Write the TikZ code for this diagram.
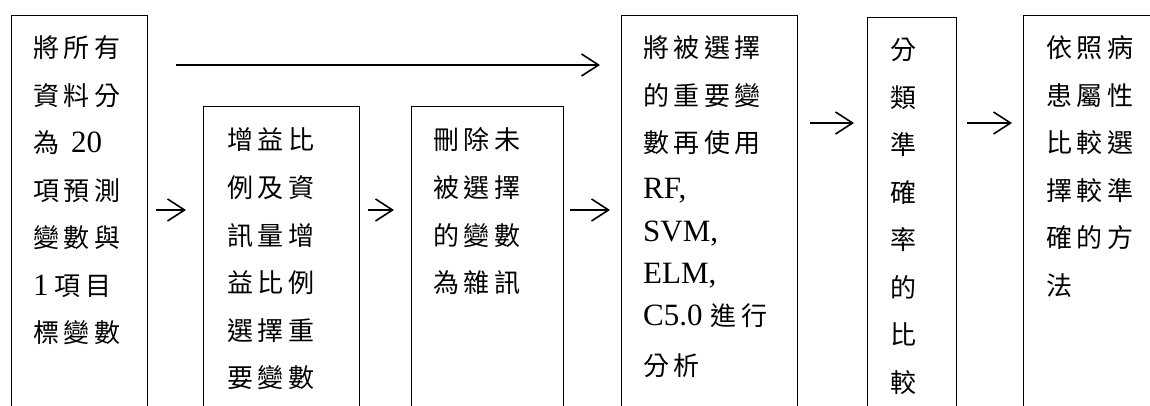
\documentclass[tikz,border=0pt]{standalone}
\usepackage{fontspec}
\setmainfont{Liberation Serif}
\newfontfamily\cjk{Noto Sans CJK TC}
\usetikzlibrary{arrows.meta}
\makeatletter
\def\Cloop#1#2{#1\ifx#2\relax\else\kern4.5pt\expandafter\Cloop\expandafter#2\fi}
\newcommand{\C}[1]{{\fontsize{26}{47.5}\selectfont\cjk\Cloop#1\relax}}
\newcommand{\Lines}[1]{\vtop{\baselineskip=47.5pt\lineskip=0pt\lineskiplimit=-100pt #1}}
\makeatother
\begin{document}
\begin{tikzpicture}[x=1pt,y=-1pt,
  box/.style={draw,line width=1pt,rectangle,anchor=north west,inner sep=0pt},
  txt/.style={anchor=base west,inner sep=0pt,font=\fontsize{31}{47.5}\selectfont},
  arr/.style={line width=1.6pt,-{Straight Barb[length=17pt,width=22pt,line width=1.6pt]}}]
\useasboundingbox (0,0) rectangle (1150,406);
\begin{scope}
\clip (0,0) rectangle (1150,406);
\node[box,minimum width=136pt,minimum height=450pt] (b1) at (11,15) {};
\node[box,minimum width=156pt,minimum height=360pt] (b2) at (203,106) {};
\node[box,minimum width=152pt,minimum height=360pt] (b3) at (411,106) {};
\node[box,minimum width=176pt,minimum height=450pt] (b4) at (621,15) {};
\node[box,minimum width=89pt,minimum height=450pt] (b5) at (867,17) {};
\node[box,minimum width=160pt,minimum height=450pt] (b6) at (1023,15) {};
\end{scope}
\node[txt] (t1) at (33,58) {\Lines{\hbox{\C{將所有}}\hbox{\C{資料分}}\hbox{\C{為}\hspace{12pt}20}\hbox{\C{項預測}}\hbox{\C{變數與}}\hbox{1\hspace{6pt}\C{項目}}\hbox{\C{標變數}}}};
\node[txt] (t2) at (227,150) {\Lines{\hbox{\C{增益比}}\hbox{\C{例及資}}\hbox{\C{訊量增}}\hbox{\C{益比例}}\hbox{\C{選擇重}}\hbox{\C{要變數}}}};
\node[txt] (t3) at (433,150) {\Lines{\hbox{\C{刪除未}}\hbox{\C{被選擇}}\hbox{\C{的變數}}\hbox{\C{為雜訊}}}};
\node[txt] (t4) at (643,58) {\Lines{\hbox{\C{將被選擇}}\hbox{\C{的重要變}}\hbox{\C{數再使用}}\vskip-2pt\hbox{RF,}\vskip-4pt\hbox{SVM,}\vskip-6pt\hbox{ELM,}\vskip-5pt\hbox{C5.0\hspace{8pt}\C{進行}}\vskip2pt\hbox{\C{分析}}}};
\node[txt] (t5) at (890,60) {\Lines{\hbox{\C{分}}\hbox{\C{類}}\hbox{\C{準}}\hbox{\C{確}}\hbox{\C{率}}\hbox{\C{的}}\hbox{\C{比}}\hbox{\C{較}}}};
\node[txt] (t6) at (1046,58) {\Lines{\hbox{\C{依照病}}\hbox{\C{患屬性}}\hbox{\C{比較選}}\hbox{\C{擇較準}}\hbox{\C{確的方}}\hbox{\C{法}}}};
\coordinate (ytop) at (0,65);
\coordinate (ymid) at (0,210);
\coordinate (yr) at (0,123);
\draw[arr,shorten <=28pt,shorten >=21pt] (b1.east |- ytop) -- (b4.west |- ytop);
\draw[arr,line width=1.3pt,shorten <=8pt,shorten >=17pt] (b1.east |- ymid) -- (b2.west |- ymid);
\draw[arr,line width=1.3pt,shorten <=8pt,shorten >=17pt] (b2.east |- ymid) -- (b3.west |- ymid);
\draw[arr,line width=1.3pt,shorten <=6pt,shorten >=11pt] (b3.east |- ymid) -- (b4.west |- ymid);
\draw[arr,shorten <=12pt,shorten >=13pt] (b4.east |- yr) -- (b5.west |- yr);
\draw[arr,shorten <=10pt,shorten >=11pt] (b5.east |- yr) -- (b6.west |- yr);
\end{tikzpicture}
\end{document}
